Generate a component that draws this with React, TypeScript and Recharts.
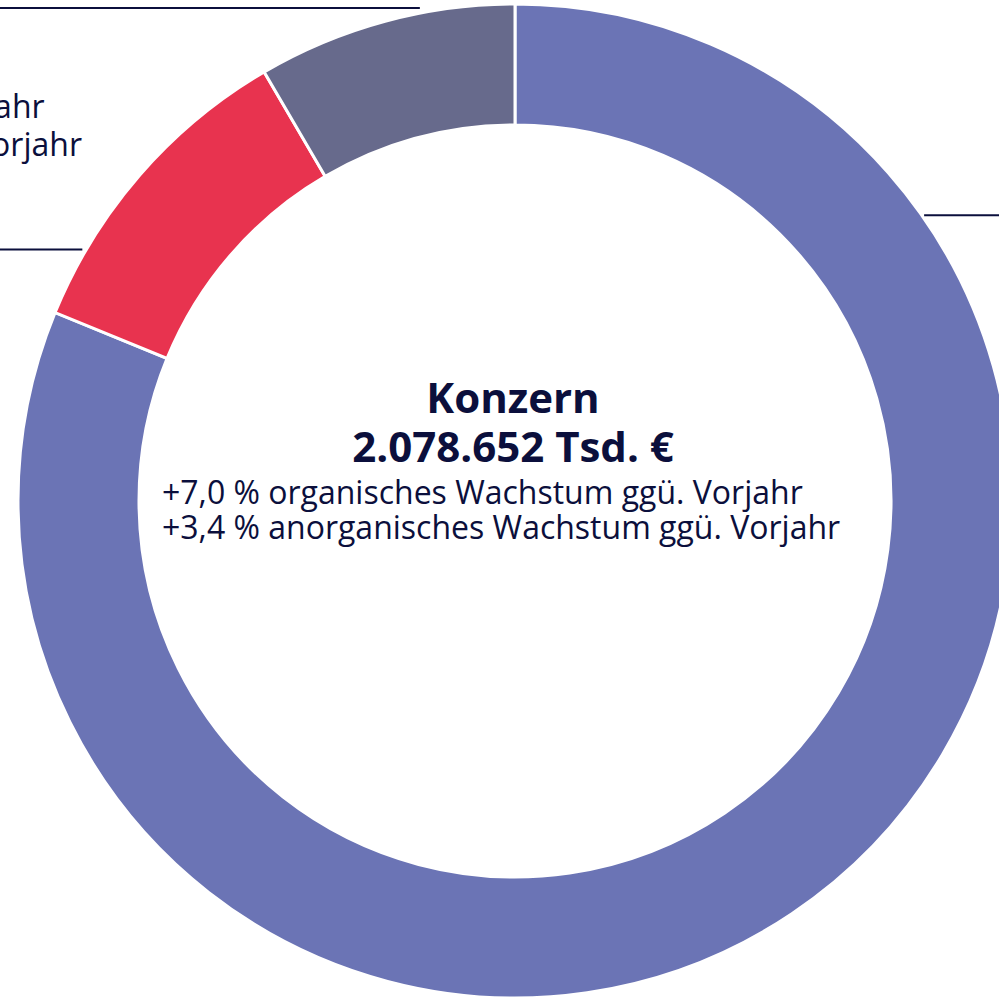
import React from 'react';
import { PieChart, Pie, Cell } from 'recharts';

// Segments, clockwise from 12 o'clock
const segments = ['Segment A', 'Segment B', 'Segment C'];
const revenue = [1687652, 216000, 175000];
const organicGrowth = ['+7,2', '+6,1', '+6,8'];
const inorganicGrowth = ['+3,6', '+2,9', '+3,1'];
const colors = ['#6b74b5', '#e8334f', '#676a8c'];

// where each callout line leaves the ring (degrees, recharts convention)
const labelAngles = [35.1, 149.6, 97.3];
const labelGaps = [2.5, 4, 32];
const labelLineLengths = [700, 900, 1016];

const totalLabel = 'Konzern';
const totalValue = '2.078.652 Tsd. €';
const totalOrganic = '+7,0';
const totalInorganic = '+3,4';

const INK = '#0b0f3c';
const FONT = '"Open Sans", sans-serif';

const fmt = (v: number) => v.toLocaleString('de-DE');

const data = segments.map((name, i) => ({ name, value: revenue[i] }));

const RADIAN = Math.PI / 180;

const renderLabel = (props: any) => {
  const { cx, cy, outerRadius, index } = props;
  const a = labelAngles[index] * RADIAN;
  const px = cx + outerRadius * Math.cos(a);
  const py = cy - outerRadius * Math.sin(a);
  const left = px < cx;
  const x1 = left ? px - labelGaps[index] : px + labelGaps[index];
  const x2 = left ? x1 - labelLineLengths[index] : x1 + labelLineLengths[index];
  const tx = left ? x2 : x1 + 100;
  return (
    <g>
      <line x1={x1} y1={py} x2={x2} y2={py} stroke={INK} strokeWidth={2} />
      <text x={tx} y={py} fill={INK} fontFamily={FONT} fontSize={32} textAnchor="start">
        <tspan x={tx} dy={34} fontWeight={700}>{segments[index]}</tspan>
        <tspan x={tx} dy={38} fontWeight={700}>{fmt(revenue[index])} Tsd. €</tspan>
        <tspan x={tx} dy={38}>{organicGrowth[index]} % organisches Wachstum ggü. Vorjahr</tspan>
        <tspan x={tx} dy={38}>{inorganicGrowth[index]} % anorganisches Wachstum ggü. Vorjahr</tspan>
      </text>
    </g>
  );
};

const CX = 515;
const CY = 501;

export default function App() {
  return (
    <div style={{ position: 'absolute', left: 0, top: 0, width: 999, height: 997, background: '#fff' }}>
      <PieChart width={999} height={997} margin={{ top: 0, right: 0, bottom: 0, left: 0 }}>
        <Pie
          data={data}
          dataKey="value"
          nameKey="name"
          cx={CX}
          cy={CY}
          innerRadius={376}
          outerRadius={497}
          startAngle={90}
          endAngle={-270}
          stroke="#fff"
          strokeWidth={3}
          label={renderLabel}
          labelLine={false}
          isAnimationActive={false}
        >
          {data.map((d, i) => (
            <Cell key={d.name} fill={colors[i]} />
          ))}
        </Pie>
      </PieChart>
      <svg
        width={999}
        height={997}
        style={{ position: 'absolute', left: 0, top: 0, pointerEvents: 'none' }}
      >
        <g fill={INK} fontFamily={FONT}>
          <text x={513} y={413} textAnchor="middle" fontSize={42} fontWeight={700}>{totalLabel}</text>
          <text x={513} y={462} textAnchor="middle" fontSize={42} fontWeight={700}>{totalValue}</text>
          <text x={162} y={504} fontSize={32}>{totalOrganic} % organisches Wachstum ggü. Vorjahr</text>
          <text x={162} y={539} fontSize={32}>{totalInorganic} % anorganisches Wachstum ggü. Vorjahr</text>
        </g>
      </svg>
    </div>
  );
}
